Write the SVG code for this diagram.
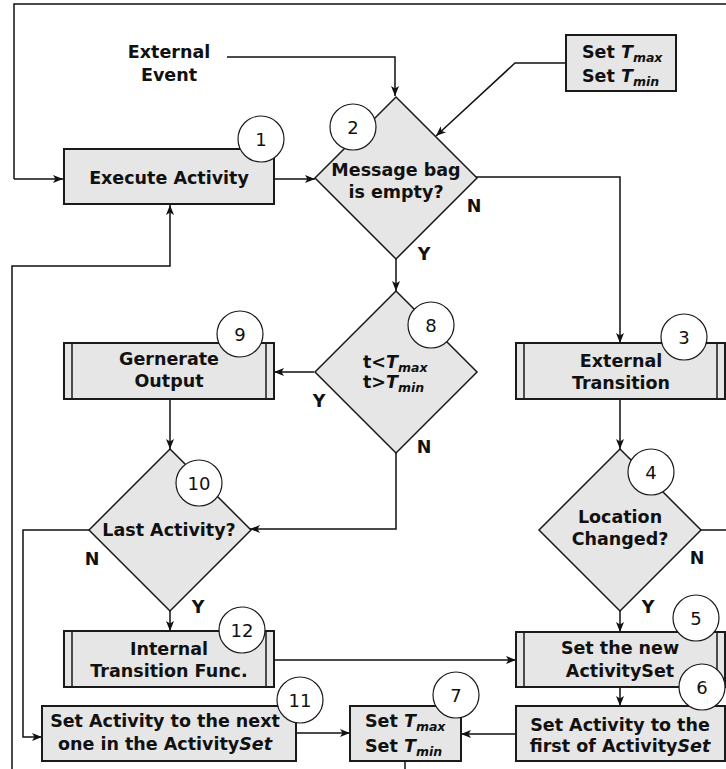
<svg xmlns="http://www.w3.org/2000/svg" width="726" height="769" viewBox="0 0 726 769">
<defs>
<marker id="arr" markerUnits="userSpaceOnUse" markerWidth="11" markerHeight="9" refX="10" refY="4.5" orient="auto">
<path d="M0,0.5 L10,4.5 L0,8.5 L2.5,4.5 z" fill="#111"/>
</marker>
<style>
.box{fill:#e6e6e6;stroke:#1a1a1a;stroke-width:2}
.dia{fill:#e6e6e6;stroke:#1a1a1a;stroke-width:1.5}
.bar{fill:none;stroke:#1a1a1a;stroke-width:1.5}
.num{fill:#fff;stroke:#1a1a1a;stroke-width:1.2}
.nt{font-family:"DejaVu Sans",sans-serif;font-size:18px;fill:#111;text-anchor:middle}
.t{font-family:"DejaVu Sans",sans-serif;font-size:17.5px;font-weight:bold;fill:#111;text-anchor:middle}
.tl{font-family:"DejaVu Sans",sans-serif;font-size:17.5px;font-weight:bold;fill:#111}
.sub{font-size:12.5px;font-style:italic}
.it{font-style:italic}
.c{fill:none;stroke:#111;stroke-width:1.5}
.ca{fill:none;stroke:#111;stroke-width:1.5;marker-end:url(#arr)}
</style>
</defs>
<g id="connectors">
<path class="c" d="M726,4 H14 V179"/>
<path class="ca" d="M14,179 H63"/>
<path class="ca" d="M227,57 H395 V96"/>
<path class="ca" d="M565,63 H515 L436,136"/>
<path class="ca" d="M274,179 H315"/>
<path class="ca" d="M476,177 H620 V343"/>
<path class="ca" d="M396,259 V291"/>
<path class="ca" d="M314,372 H274"/>
<path class="ca" d="M396,453 V529 H250"/>
<path class="ca" d="M170,399 V449"/>
<path class="ca" d="M89,530 H23 V737 H42"/>
<path class="ca" d="M170,611 V631"/>
<path class="ca" d="M274,660 H516"/>
<path class="ca" d="M620,399 V449"/>
<path class="ca" d="M620,611 V632"/>
<path class="c" d="M701,530 H726"/>
<path class="ca" d="M620,687 V706"/>
<path class="ca" d="M516,734 H461"/>
<path class="ca" d="M296,733 H350"/>
<path class="c" d="M405,761 V769"/>
<path class="ca" d="M12,769 V266 H170 V205"/>
</g>
<g id="external-event">
<text class="t" x="169" y="58">External</text>
<text class="t" x="169" y="81">Event</text>
</g>
<g id="set-t-top">
<rect class="box" x="566" y="35" width="110" height="56"/>
<text class="tl" x="582" y="58">Set <tspan class="it">T</tspan><tspan class="sub" dy="4">max</tspan></text>
<text class="tl" x="582" y="82">Set <tspan class="it">T</tspan><tspan class="sub" dy="4">min</tspan></text>
</g>
<g id="n1">
<rect class="box" x="64" y="149" width="210" height="55"/>
<text class="t" x="169" y="184">Execute Activity</text>
<circle class="num" cx="261" cy="139" r="23"/>
<text class="nt" x="261" y="145.5">1</text>
</g>
<g id="n2">
<polygon class="dia" points="396,97 477,178 396,259 315,178"/>
<text class="t" x="396" y="176">Message bag</text>
<text class="t" x="396" y="198">is empty?</text>
<circle class="num" cx="353" cy="127" r="23"/>
<text class="nt" x="353" y="133.5">2</text>
<text class="t" x="474" y="212">N</text>
<text class="t" x="424" y="260">Y</text>
</g>
<g id="n3">
<rect class="box" x="516" y="343" width="209" height="56"/>
<path class="bar" d="M524,343 V399 M717,343 V399"/>
<text class="t" x="621" y="367">External</text>
<text class="t" x="621" y="389">Transition</text>
<circle class="num" cx="684" cy="337" r="23"/>
<text class="nt" x="684" y="343.5">3</text>
</g>
<g id="n8">
<polygon class="dia" points="396,291 477,372 396,453 315,372"/>
<text class="tl" x="363" y="368">t&lt;<tspan class="it">T</tspan><tspan class="sub" dy="4">max</tspan></text>
<text class="tl" x="363" y="388">t&gt;<tspan class="it">T</tspan><tspan class="sub" dy="4">min</tspan></text>
<circle class="num" cx="431" cy="325" r="23"/>
<text class="nt" x="431" y="331.5">8</text>
<text class="t" x="319" y="407">Y</text>
<text class="t" x="424" y="453">N</text>
</g>
<g id="n9">
<rect class="box" x="64" y="343" width="210" height="56"/>
<path class="bar" d="M72,343 V399 M266,343 V399"/>
<text class="t" x="169" y="365">Gernerate</text>
<text class="t" x="169" y="387">Output</text>
<circle class="num" cx="240" cy="334" r="23"/>
<text class="nt" x="240" y="340.5">9</text>
</g>
<g id="n10">
<polygon class="dia" points="170,449 251,530 170,611 89,530"/>
<text class="t" x="169" y="536">Last Activity?</text>
<circle class="num" cx="199" cy="483" r="23"/>
<text class="nt" x="199" y="489.5">10</text>
<text class="t" x="92" y="565">N</text>
<text class="t" x="198" y="613">Y</text>
</g>
<g id="n4">
<polygon class="dia" points="620,449 701,530 620,611 539,530"/>
<text class="t" x="620" y="523">Location</text>
<text class="t" x="620" y="545">Changed?</text>
<circle class="num" cx="651" cy="472" r="23"/>
<text class="nt" x="651" y="478.5">4</text>
<text class="t" x="697" y="564">N</text>
<text class="t" x="648" y="613">Y</text>
</g>
<g id="n12">
<rect class="box" x="64" y="631" width="210" height="56"/>
<path class="bar" d="M72,631 V687 M266,631 V687"/>
<text class="t" x="169" y="655">Internal</text>
<text class="t" x="169" y="677">Transition Func.</text>
<circle class="num" cx="242" cy="630" r="23"/>
<text class="nt" x="242" y="636.5">12</text>
</g>
<g id="n5">
<rect class="box" x="516" y="632" width="209" height="55"/>
<path class="bar" d="M524,632 V687 M717,632 V687"/>
<text class="t" x="620" y="654">Set the new</text>
<text class="t" x="620" y="677">ActivitySet</text>
<circle class="num" cx="696" cy="618" r="23"/>
<text class="nt" x="696" y="624.5">5</text>
</g>
<g id="n6">
<rect class="box" x="516" y="706" width="209" height="55"/>
<text class="t" x="620" y="731">Set Activity to the</text>
<text class="t" x="620" y="752">first of Activity<tspan class="it">Set</tspan></text>
<circle class="num" cx="702" cy="687" r="23"/>
<text class="nt" x="702" y="693.5">6</text>
</g>
<g id="n11">
<rect class="box" x="42" y="706" width="254" height="55"/>
<text class="t" x="165" y="727">Set Activity to the next</text>
<text class="t" x="165" y="750">one in the Activity<tspan class="it">Set</tspan></text>
<circle class="num" cx="300" cy="700" r="23"/>
<text class="nt" x="300" y="706.5">11</text>
</g>
<g id="n7">
<rect class="box" x="350" y="706" width="111" height="55"/>
<text class="tl" x="365" y="727">Set <tspan class="it">T</tspan><tspan class="sub" dy="4">max</tspan></text>
<text class="tl" x="365" y="752">Set <tspan class="it">T</tspan><tspan class="sub" dy="4">min</tspan></text>
<circle class="num" cx="456" cy="695" r="23"/>
<text class="nt" x="456" y="701.5">7</text>
</g>
</svg>
